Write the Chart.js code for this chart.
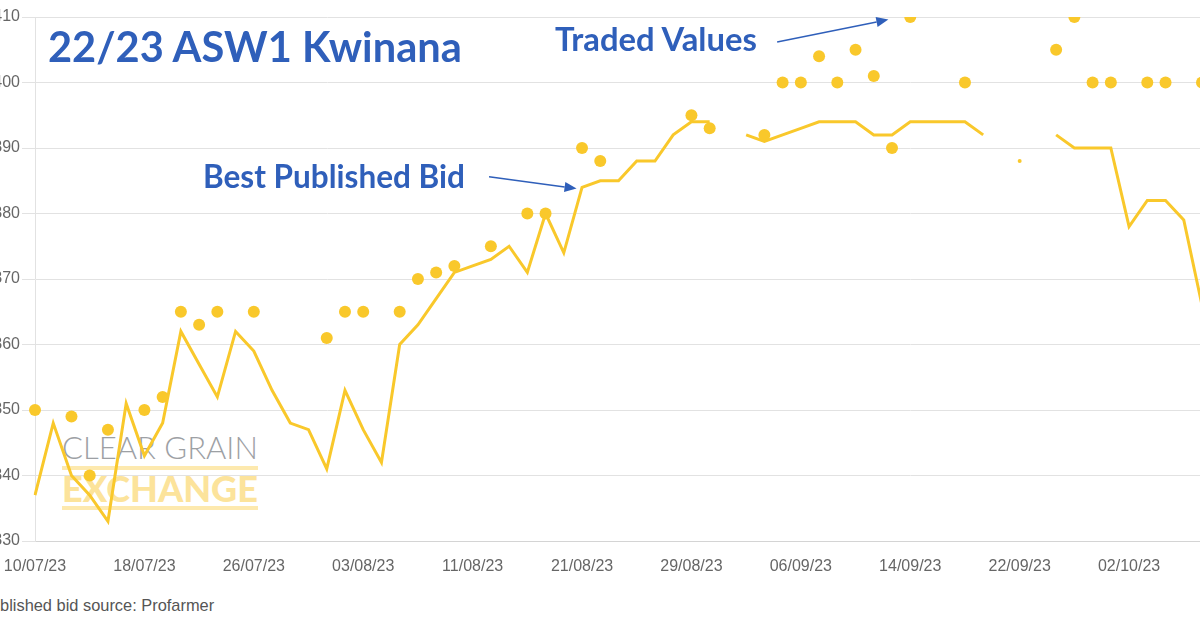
<!DOCTYPE html>
<html>
<head>
<meta charset="utf-8">
<script src="https://cdn.jsdelivr.net/npm/chart.js@4.4.1/dist/chart.umd.min.js"></script>
<style>
  html, body { margin: 0; padding: 0; background: #fff; }
  #wrap { position: relative; width: 1200px; height: 630px; overflow: hidden; font-family: "Liberation Sans", Arial, sans-serif; }
  #box { position: absolute; left: -20px; top: 0; width: 1240px; height: 590px; }
  .note { position: absolute; font-family: Lato, "Open Sans", sans-serif; font-weight: 700; color: #2f5fba; white-space: nowrap; line-height: 1; }
  #mark { position: absolute; left: 62px; top: 432px; width: 196px; opacity: .85; }
  #mark .cg { font-family: Lato, sans-serif; font-weight: 300; color: #8d9095; line-height: 1; white-space: nowrap; display: inline-block; }
  #mark .ex { margin-top: 3px; border-top: 4px solid #fde6a0; border-bottom: 4px solid #fde6a0; font-family: Lato, sans-serif; font-weight: 900; color: #fcdf8a; line-height: 1; white-space: nowrap; display: inline-block; }
  #source { position: absolute; left: -20px; top: 596px; font-size: 16.4px; color: #555; white-space: nowrap; line-height: 1.1; }
</style>
</head>
<body>
<div id="wrap">
  <div id="mark"><span class="cg">CLEAR GRAIN</span><br><span class="ex">EXCHANGE</span></div>
  <div id="box"><canvas id="bidChart" width="1240" height="590"></canvas></div>
  <div class="note" id="title" style="left:48px;">22/23 ASW1 Kwinana</div>
  <div class="note" id="bidNote" style="left:203px;">Best Published Bid</div>
  <div class="note" id="tradeNote" style="left:555px;">Traded Values</div>
  <div id="source">Published bid source: Profarmer</div>
</div>
<script>
// business days, 10 Jul - 6 Oct 2023
const tradeDates = [
  '10/07/23','11/07/23','12/07/23','13/07/23','14/07/23','17/07/23','18/07/23','19/07/23','20/07/23','21/07/23',
  '24/07/23','25/07/23','26/07/23','27/07/23','28/07/23','31/07/23','01/08/23','02/08/23','03/08/23','04/08/23',
  '07/08/23','08/08/23','09/08/23','10/08/23','11/08/23','14/08/23','15/08/23','16/08/23','17/08/23','18/08/23',
  '21/08/23','22/08/23','23/08/23','24/08/23','25/08/23','28/08/23','29/08/23','30/08/23','31/08/23','01/09/23',
  '04/09/23','05/09/23','06/09/23','07/09/23','08/09/23','11/09/23','12/09/23','13/09/23','14/09/23','15/09/23',
  '18/09/23','19/09/23','20/09/23','21/09/23','22/09/23','25/09/23','26/09/23','27/09/23','28/09/23','29/09/23',
  '02/10/23','03/10/23','04/10/23','05/10/23','06/10/23'
];

const bestBid = [
  337, 348, 340, 337, 333, 351, 343, 348, 362, 357,
  352, 362, 359, 353, 348, 347, 341, 353, 347, 342,
  360, 363, 367, 371, 372, 373, 375, 371, 380, 374,
  384, 385, 385, 388, 388, 392, 394, 394, null, 392,
  391, 392, 393, 394, 394, 394, 392, 392, 394, 394,
  394, 394, 392, null, 388, null, 392, 390, 390, 390,
  378, 382, 382, 379, 366
];

const tradedValues = [
  350, null, 349, 340, 347, null, 350, 352, 365, 363,
  365, null, 365, null, null, null, 361, 365, 365, null,
  365, 370, 371, 372, null, 375, null, 380, 380, null,
  390, 388, null, null, null, null, 395, 393, null, null,
  392, 400, 400, 404, 400, 405, 401, 390, 410, null,
  null, 400, null, null, null, null, 405, 410, 400, 400,
  null, 400, 400, null, 400
];

const yTicks = [330, 340, 350, 360, 370, 380, 390, 400, 410];
const labelEvery = 6;

const gold = '#f9c82b';
const noteBlue = '#2f5fba';

// arrows in (category index, value) terms
const arrowNotes = [
  { from: [40.7, 406.2], to: [46.8, 409.6] },
  { from: [24.9, 385.6], to: [29.7, 383.8] }
];

const arrowPlugin = {
  id: 'arrows',
  afterDatasetsDraw(chart) {
    const { ctx, scales: { x, y } } = chart;
    ctx.save();
    ctx.strokeStyle = noteBlue;
    ctx.fillStyle = noteBlue;
    ctx.lineWidth = 1.5;
    arrowNotes.forEach(a => {
      const x1 = x.getPixelForValue(a.from[0]), y1 = y.getPixelForValue(a.from[1]);
      const x2 = x.getPixelForValue(a.to[0]), y2 = y.getPixelForValue(a.to[1]);
      const ang = Math.atan2(y2 - y1, x2 - x1);
      const hl = 12, hw = 5;
      const bx = x2 - hl * Math.cos(ang), by = y2 - hl * Math.sin(ang);
      ctx.beginPath();
      ctx.moveTo(x1, y1);
      ctx.lineTo(bx, by);
      ctx.stroke();
      ctx.beginPath();
      ctx.moveTo(x2, y2);
      ctx.lineTo(bx + hw * Math.sin(ang), by - hw * Math.cos(ang));
      ctx.lineTo(bx - hw * Math.sin(ang), by + hw * Math.cos(ang));
      ctx.closePath();
      ctx.fill();
    });
    ctx.restore();
  }
};

function isolated(i) {
  return bestBid[i] != null && bestBid[i - 1] == null && bestBid[i + 1] == null;
}

new Chart(document.getElementById('bidChart').getContext('2d'), {
  type: 'line',
  data: {
    labels: tradeDates,
    datasets: [{
      label: 'Traded Values',
      data: tradedValues,
      showLine: false,
      pointRadius: 6,
      pointHoverRadius: 6,
      pointBackgroundColor: gold,
      pointBorderWidth: 0,
      order: 0
    }, {
      label: 'Best Published Bid',
      data: bestBid,
      borderColor: gold,
      backgroundColor: gold,
      borderWidth: 3,
      tension: 0,
      spanGaps: false,
      pointRadius: c => isolated(c.dataIndex) ? 2 : 0,
      pointBorderWidth: 0,
      order: 1
    }]
  },
  options: {
    responsive: false,
    animation: false,
    maintainAspectRatio: false,
    layout: { padding: { top: 17, right: 18, left: 0, bottom: 0 } },
    plugins: {
      legend: { display: false },
      tooltip: { enabled: false }
    },
    scales: {
      x: {
        offset: false,
        grid: { display: false, drawTicks: false },
        border: { display: true, color: '#d4d4d4' },
        ticks: {
          autoSkip: false,
          maxRotation: 0,
          padding: 16,
          color: '#666',
          font: { family: '"Liberation Sans", Arial, sans-serif', size: 16 },
          callback: (v, i) => i % labelEvery === 0 ? tradeDates[i] : ''
        },
        afterFit: s => { s.height = 49; }
      },
      y: {
        min: yTicks[0],
        max: yTicks[yTicks.length - 1],
        afterBuildTicks: s => { s.ticks = yTicks.map(v => ({ value: v })); },
        grid: { color: '#e2e2e2', lineWidth: 1, drawTicks: true, tickLength: 13 },
        border: { display: true, color: '#e2e2e2' },
        ticks: {
          padding: 2,
          color: '#666',
          font: { family: '"Liberation Sans", Arial, sans-serif', size: 16 }
        },
        afterFit: s => { s.width = 55; }
      }
    }
  },
  plugins: [arrowPlugin]
});

// size the blue notes and watermark to their widths in the picture
function fitWidth(el, w) {
  el.style.fontSize = '100px';
  const k = w / el.getBoundingClientRect().width;
  el.style.fontSize = (100 * k) + 'px';
  return 100 * k;
}
function placeBaseline(el, size, baseline) {
  el.style.top = (baseline - 0.89 * size) + 'px';
}
placeBaseline(document.getElementById('title'), fitWidth(document.getElementById('title'), 414), 63);
placeBaseline(document.getElementById('bidNote'), fitWidth(document.getElementById('bidNote'), 262), 189);
placeBaseline(document.getElementById('tradeNote'), fitWidth(document.getElementById('tradeNote'), 202), 52);
fitWidth(document.querySelector('#mark .cg'), 196);
fitWidth(document.querySelector('#mark .ex'), 196);
</script>
</body>
</html>
